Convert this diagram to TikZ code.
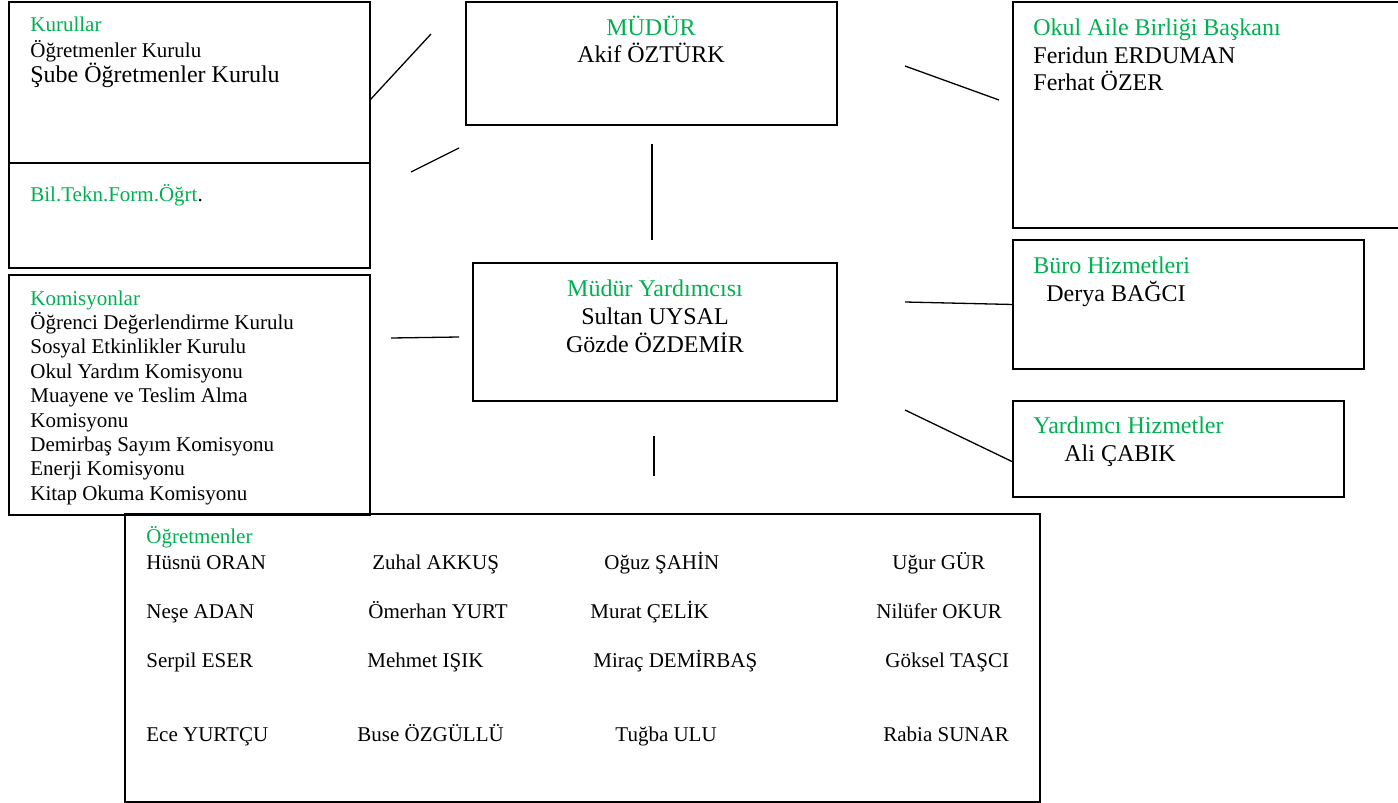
\documentclass[tikz,border=0pt]{standalone}
\usepackage{fontspec}
\setmainfont{Liberation Serif}
\usetikzlibrary{calc}
\definecolor{kgreen}{RGB}{0,176,80}

\tikzset{
  box/.style={draw,line width=1pt,inner sep=0pt,outer sep=0pt,anchor=north west},
  link/.style={line width=0.65pt},
  txt/.style={anchor=base west,inner sep=0pt,font=\fontsize{10.5}{12}\selectfont},
  bigtxt/.style={txt,font=\fontsize{12}{14}\selectfont},
  head/.style={text=kgreen},
}

\begin{document}
\begin{tikzpicture}[x=0.5pt,y=-0.5pt]
  \useasboundingbox (0,0) rectangle (1398,803);

  % boxes
  \node[box,minimum width=180.5pt,minimum height=80.5pt] (kur)   at (9,2)     {};
  \node[box,minimum width=180.5pt,minimum height=52.5pt] (bil)   at (9,163)   {};
  \node[box,minimum width=180.5pt,minimum height=120pt]  (kom)   at (9,275)   {};
  \node[box,minimum width=185.5pt,minimum height=61.5pt] (mudur) at (466,2)   {};
  \node[box,minimum width=182pt,minimum height=69pt]     (myard) at (473,263) {};
  \node[box,minimum width=194pt,minimum height=113pt]    (oab)   at (1013,2)  {};
  \node[box,minimum width=175.5pt,minimum height=64.5pt] (buro)  at (1013,240) {};
  \node[box,minimum width=165.5pt,minimum height=48pt]   (yhiz)  at (1013,401) {};
  \node[box,minimum width=457.5pt,minimum height=144pt]  (ogr)   at (125,514) {};

  % Kurullar
  \node[txt,head]  (kurH) at (30,32)  {Kurullar};
  \node[txt]       (kur1) at (30,57)  {Öğretmenler Kurulu};
  \node[bigtxt]    (kur2) at (30,82)  {Şube Öğretmenler Kurulu};
  \node[txt,head]  (bilH) at (30,201) {Bil.Tekn.Form.Öğrt\textcolor{black}{.}};

  % Komisyonlar
  \node[txt,head] (komH) at (30,305) {Komisyonlar};
  \foreach \t [count=\i] in {Öğrenci Değerlendirme Kurulu,Sosyal Etkinlikler Kurulu,
      Okul Yardım Komisyonu,Muayene ve Teslim Alma,Komisyonu,Demirbaş Sayım Komisyonu,
      Enerji Komisyonu,Kitap Okuma Komisyonu}
    \node[txt] (kom\i) at (30,305+24.4*\i) {\t};

  % Mudur
  \node[bigtxt,head,anchor=base] (mudH) at (651,35) {MÜDÜR};
  \node[bigtxt,anchor=base]      (mud1) at (651,62) {Akif ÖZTÜRK};

  % Mudur yardimcisi
  \node[bigtxt,head,anchor=base] (myH) at (655,296) {Müdür Yardımcısı};
  \node[bigtxt,anchor=base]      (my1) at (655,324) {Sultan UYSAL};
  \node[bigtxt,anchor=base]      (my2) at (655,352) {Gözde ÖZDEMİR};

  % right side
  \node[bigtxt,head] (oabH) at (1033,35) {Okul Aile Birliği Başkanı};
  \node[bigtxt]      (oab1) at (1033,63) {Feridun ERDUMAN};
  \node[bigtxt]      (oab2) at (1033,90) {Ferhat ÖZER};
  \node[bigtxt,head] (buroH) at (1033,273) {Büro Hizmetleri};
  \node[bigtxt]      (buro1) at (1046,301) {Derya BAĞCI};
  \node[bigtxt,head] (yhizH) at (1033,433) {Yardımcı Hizmetler};
  \node[bigtxt]      (yhiz1) at (1064,461) {Ali ÇABIK};

  % ogretmenler
  \node[txt,head] (ogrH) at (146,543) {Öğretmenler};
  \node[txt] (t11) at (146,569) {Hüsnü ORAN};
  \node[txt] (t12) at (372,569) {Zuhal AKKUŞ};
  \node[txt] (t13) at (604,569) {Oğuz ŞAHİN};
  \node[txt] (t14) at (892,569) {Uğur GÜR};
  \node[txt] (t21) at (146,618) {Neşe ADAN};
  \node[txt] (t22) at (368,618) {Ömerhan YURT};
  \node[txt] (t23) at (590,618) {Murat ÇELİK};
  \node[txt] (t24) at (876,618) {Nilüfer OKUR};
  \node[txt] (t31) at (146,667) {Serpil ESER};
  \node[txt] (t32) at (367,667) {Mehmet IŞIK};
  \node[txt] (t33) at (593,667) {Miraç DEMİRBAŞ};
  \node[txt] (t34) at (885,667) {Göksel TAŞCI};
  \node[txt] (t41) at (146,741) {Ece YURTÇU};
  \node[txt] (t42) at (357,741) {Buse ÖZGÜLLÜ};
  \node[txt] (t43) at (615,741) {Tuğba ULU};
  \node[txt] (t44) at (883,741) {Rabia SUNAR};

  % loose line ends
  \coordinate (a1) at (431,34);
  \coordinate (b1) at (411,172);
  \coordinate (b2) at (459,148);
  \coordinate (c1) at (652,144);
  \coordinate (c2) at (652,240);
  \coordinate (d1) at (391,338);
  \coordinate (d2) at (459,337);
  \coordinate (e1) at (654,436);
  \coordinate (e2) at (654,476);
  \coordinate (f1) at (905,66);
  \coordinate (f2) at (999,100);
  \coordinate (g1) at (905,302);
  \coordinate (h1) at (905,410);

  \draw[link] ($(kur.north east)+(0,98)$) -- (a1);
  \draw[link] (b1) -- (b2);
  \draw[link] (c1) -- (c2);
  \draw[link] (d1) -- (d2);
  \draw[link] (e1) -- (e2);
  \draw[link] (f1) -- (f2);
  \draw[link] (g1) -- (buro.west);
  \draw[link] (h1) -- ($(yhiz.north west)+(0,61)$);
\end{tikzpicture}
\end{document}
